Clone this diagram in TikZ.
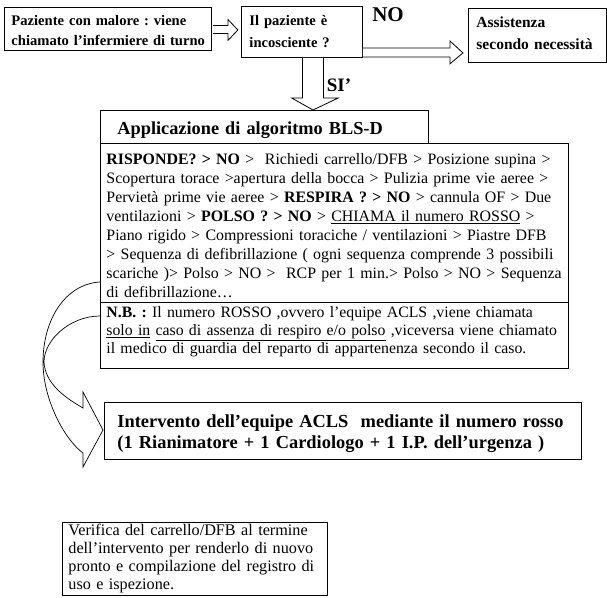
\documentclass[tikz,border=0pt]{standalone}
\usepackage{fontspec}
\setmainfont{Liberation Serif}
\usetikzlibrary{calc}
\newcommand\Ltop[1]{\rule{0pt}{#1pt}}
\newcommand\Lbot[1]{\rule[-#1pt]{0pt}{#1pt}}
\newcommand\Lmb[1]{\mbox{#1}}
\frenchspacing
\begin{document}
\begin{tikzpicture}[x=1pt,y=-1pt,
  box/.style={draw, line width=0.9pt, anchor=north west, inner ysep=0pt, align=left},
  blk/.style={draw, line width=0.8pt, fill=white, line join=miter},
  curv/.style={draw, line width=0.7pt},
  lbl/.style={inner sep=0pt}
]
\useasboundingbox (0,0) rectangle (607,597);

% top row
\node[box, text width=193pt, inner xsep=7pt,
      font=\bfseries\fontsize{14.6}{20}\selectfont] (a) at (4,7)
  {\Ltop{18}\Lmb{Paziente con malore : viene}\\\Lmb{chiamato l’infermiere di turno}\Lbot{5}};
\node[box, text width=105pt, inner xsep=8pt,
      font=\bfseries\fontsize{14.6}{22}\selectfont] (b) at (241,6)
  {\Ltop{19}Il paziente è\\incosciente ?\Lbot{10}};
\node[box, text width=122pt, inner xsep=8pt,
      font=\bfseries\fontsize{15.5}{22}\selectfont] (c) at (468,8)
  {\Ltop{19}Assistenza\\\Lmb{secondo necessità}\Lbot{13}};
\node[lbl, font=\bfseries\fontsize{21}{22}\selectfont] (no) at (388,15) {NO};

% arrow a -> b
\draw[blk] ($(a.east)+(1,-3.5)$) -- ($(a.east)+(16,-3.5)$) -- ($(a.east)+(16,-9.5)$)
  -- ($(a.east)+(26,1)$) -- ($(a.east)+(16,11.5)$) -- ($(a.east)+(16,4.5)$) -- ($(a.east)+(1,4.5)$);
% arrow b -> c
\draw[blk] ($(b.south east)+(0,-10)$) -- ($(b.south east)+(87,-10)$) -- ($(b.south east)+(87,-17)$)
  -- ($(b.south east)+(100,-5)$) -- ($(b.south east)+(87,6)$) -- ($(b.south east)+(87,-1)$) -- ($(b.south east)+(0,-1)$);

% title box
\node[box, text width=294pt, inner xsep=17pt,
      font=\bfseries\fontsize{18.3}{20}\selectfont] (t) at (100,110)
  {\Ltop{24}\Lmb{Applicazione di algoritmo BLS-D}\Lbot{9}};

% down arrow b -> t
\draw[blk] ($(b.south)+(0.5,0)$) -- ($(b.south)+(0.5,40)$) -- ($(b.south)+(-10.5,40)$)
  -- (t.north -| 313,0) -- ($(b.south)+(36.5,40)$) -- ($(b.south)+(21.5,40)$) -- ($(b.south)+(21.5,0)$);
\node[lbl, font=\bfseries\fontsize{19}{20}\selectfont] (si) at (339,85) {SI’};

% main text box
\node[box, text width=456pt, inner xsep=6pt,
      font=\fontsize{15.9}{19}\selectfont] (m) at (100,143)
  {\Ltop{21}\Lmb{\textbf{RISPONDE? > NO} >\ \ Richiedi carrello/DFB > Posizione supina >}\\
   \Lmb{Scopertura torace >apertura della bocca > Pulizia prime vie aeree >}\\
   \Lmb{Pervietà prime vie aeree > \textbf{RESPIRA ? > NO} > cannula OF > Due}\\
   \Lmb{ventilazioni > \textbf{POLSO ? > NO} > \underline{CHIAMA il numero ROSSO} >}\\
   \Lmb{Piano rigido > Compressioni toraciche / ventilazioni > Piastre DFB}\\
   \Lmb{> Sequenza di defibrillazione ( ogni sequenza comprende 3 possibili}\\
   \Lmb{scariche )> Polso > NO >\ \ RCP per 1 min.> Polso > NO > Sequenza}\\
   \Lmb{di defibrillazione…}\Lbot{5}};

% N.B. box
\node[box, text width=456pt, inner xsep=6pt,
      font=\fontsize{15.8}{18}\selectfont] (nb) at (100,302)
  {\Ltop{15}\Lmb{\textbf{N.B. :} Il numero ROSSO ,ovvero l’equipe ACLS ,viene chiamata}\\
   \Lmb{\underline{solo in} \underline{caso di assenza di respiro e/o polso} ,viceversa viene chiamato}\\
   \Lmb{il medico di guardia del reparto di appartenenza secondo il caso.}\Lbot{15}};

% Intervento box
\node[box, text width=451pt, inner xsep=13pt,
      font=\bfseries\fontsize{18.4}{21}\selectfont] (iv) at (104,402)
  {\Ltop{25}\Lmb{Intervento dell’equipe ACLS\ \ mediante il numero rosso}\\
   \Lmb{(1 Rianimatore + 1 Cardiologo + 1 I.P. dell’urgenza )}\Lbot{11}};

% Verifica box
\node[box, text width=253pt, inner xsep=6pt,
      font=\fontsize{16.2}{18}\selectfont] (vf) at (62,522)
  {\Ltop{13}\Lmb{Verifica del carrello/DFB al termine}\\
   \Lmb{dell’intervento per renderlo di nuovo}\\
   \Lmb{pronto e compilazione del registro di}\\
   \Lmb{uso e ispezione.}\Lbot{6}};

% curved block arrow from main / N.B. boxes to Intervento
\coordinate (o1) at (m.west |- 0,282);
\coordinate (i1) at (nb.west |- 0,316);
\coordinate (tip) at (iv.west |- 0,430);
\draw[curv, line join=miter]
  (o1) .. controls (65,284) and (43,320) .. (43,362)
       .. controls (43,400) and (65,440) .. (83,453)
  -- (83,467) -- ($(tip)+(-1,0)$) -- (83,392) -- (83,408)
       .. controls (62,396) and (45,382) .. (44,362)
       .. controls (44,340) and (70,316) .. (i1);
\end{tikzpicture}
\end{document}
